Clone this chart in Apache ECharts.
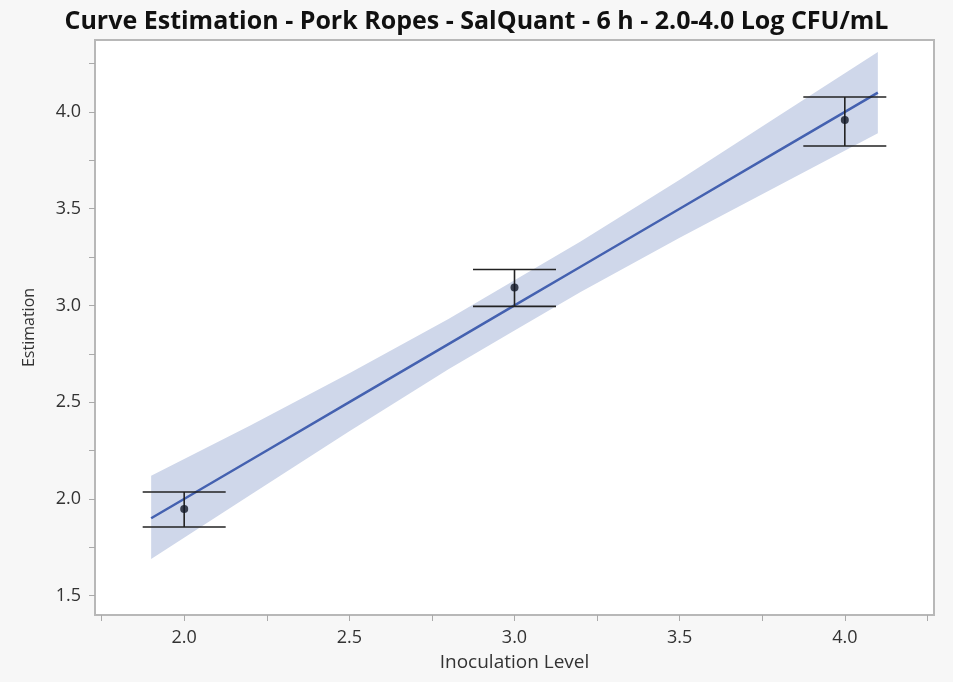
<!DOCTYPE html>
<html>
<head>
<meta charset="utf-8">
<script src="https://cdn.jsdelivr.net/npm/echarts@6/dist/echarts.min.js"></script>
<style>
html,body{margin:0;padding:0;background:#f7f7f7;}
#chart{width:953px;height:682px;}
</style>
</head>
<body>
<div id="chart"></div>
<script>
// Observed points with error bars
const levels = [2.0, 3.0, 4.0];
const estimates = [1.948, 3.093, 3.959];
const errLow = [1.855, 2.995, 3.824];
const errHigh = [2.036, 3.186, 4.077];

// Fitted line and confidence band
const fitX = [1.9, 2.2, 2.5, 2.8, 3.0, 3.2, 3.5, 3.8, 4.1];
const fitY = [1.90, 2.20, 2.50, 2.80, 3.00, 3.20, 3.50, 3.80, 4.10];
const bandLow = [1.69, 2.02, 2.35, 2.67, 2.87, 3.07, 3.35, 3.62, 3.89];
const bandHigh = [2.12, 2.38, 2.65, 2.93, 3.13, 3.33, 3.65, 3.98, 4.31];

// Tick labels
const xLabelTicks = [2.0, 2.5, 3.0, 3.5, 4.0];
const xMinorTicks = [1.75, 2.0, 2.25, 2.5, 2.75, 3.0, 3.25, 3.5, 3.75, 4.0, 4.25];
const yLabelTicks = [1.5, 2.0, 2.5, 3.0, 3.5, 4.0];
const yMinorTicks = [1.5, 1.75, 2.0, 2.25, 2.5, 2.75, 3.0, 3.25, 3.5, 3.75, 4.0, 4.25];

const chart = echarts.init(document.getElementById('chart'));

const bandData = fitX.map((x, i) => [x, bandLow[i], bandHigh[i]]);
const fitData = fitX.map((x, i) => [x, fitY[i]]);
const pointData = levels.map((x, i) => [x, estimates[i]]);
const errData = levels.map((x, i) => [x, errLow[i], errHigh[i]]);

const labelFont = {fontFamily: 'Open Sans', fontSize: 18, color: '#333'};

chart.setOption({
  backgroundColor: '#f7f7f7',
  animation: false,
  title: {
    text: 'Curve Estimation - Pork Ropes - SalQuant - 6 h - 2.0-4.0 Log CFU/mL',
    left: 'center',
    top: 4,
    textStyle: {fontFamily: 'Open Sans', fontWeight: 'bold', fontSize: 25, color: '#111'}
  },
  grid: {
    left: 95, right: 19, top: 40, bottom: 67,
    show: true, backgroundColor: '#ffffff', borderColor: '#b8b8b8', borderWidth: 2
  },
  xAxis: {
    type: 'value', min: 1.73, max: 4.27,
    name: 'Inoculation Level', nameLocation: 'middle', nameGap: 38,
    nameTextStyle: {fontFamily: 'Open Sans', fontSize: 19, color: '#333'},
    axisLine: {show: false},
    axisTick: {show: true, customValues: xMinorTicks, length: 6, lineStyle: {color: '#aaa', width: 1}},
    axisLabel: {customValues: xLabelTicks, margin: 14, formatter: v => v.toFixed(1), ...labelFont},
    splitLine: {show: false}
  },
  yAxis: {
    type: 'value', min: 1.40, max: 4.372,
    name: 'Estimation', nameLocation: 'middle', nameGap: 58,
    nameTextStyle: {fontFamily: 'Open Sans', fontSize: 16, color: '#333'},
    axisLine: {show: false},
    axisTick: {show: true, customValues: yMinorTicks, length: 6, lineStyle: {color: '#aaa', width: 1}},
    axisLabel: {customValues: yLabelTicks, margin: 14, formatter: v => v.toFixed(1), ...labelFont},
    splitLine: {show: false}
  },
  series: [
    {
      type: 'custom',
      data: bandData,
      silent: true,
      z: 1,
      renderItem: function (params, api) {
        if (params.dataIndex !== 0) return null;
        const upper = [], lower = [];
        for (let i = 0; i < bandData.length; i++) {
          upper.push(api.coord([bandData[i][0], bandData[i][2]]));
          lower.push(api.coord([bandData[i][0], bandData[i][1]]));
        }
        const pts = upper.concat(lower.reverse());
        return {type: 'polygon', shape: {points: pts}, style: {fill: '#cfd7ea'}};
      }
    },
    {
      type: 'line', data: fitData, symbol: 'none', z: 3,
      lineStyle: {color: '#4461b0', width: 2.5}
    },
    {
      type: 'custom',
      data: errData,
      renderItem: function (params, api) {
        const x = api.value(0);
        const lo = api.coord([x, api.value(1)]);
        const hi = api.coord([x, api.value(2)]);
        const hw = 41.5;
        const style = {stroke: '#222', lineWidth: 1.6};
        return {
          type: 'group',
          children: [
            {type: 'line', shape: {x1: lo[0], y1: lo[1], x2: hi[0], y2: hi[1]}, style: style},
            {type: 'line', shape: {x1: lo[0] - hw, y1: lo[1], x2: lo[0] + hw, y2: lo[1]}, style: style},
            {type: 'line', shape: {x1: hi[0] - hw, y1: hi[1], x2: hi[0] + hw, y2: hi[1]}, style: style}
          ]
        };
      },
      z: 5
    },
    {
      type: 'scatter', data: pointData, symbol: 'circle', symbolSize: 8,
      itemStyle: {color: '#111827'}, z: 6
    }
  ]
});
</script>
</body>
</html>
